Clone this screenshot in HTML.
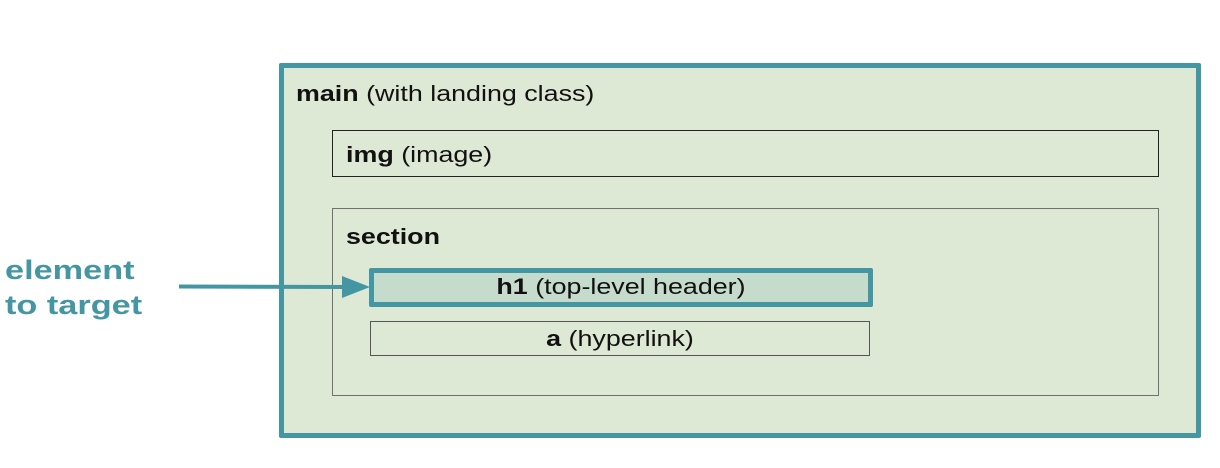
<!DOCTYPE html>
<html><head><meta charset="utf-8"><style>
html,body{margin:0;padding:0;background:#fff;width:1220px;height:468px;overflow:hidden;position:relative;font-family:"Liberation Sans",sans-serif;}
div{position:absolute;box-sizing:border-box;}
.main{left:279px;top:63px;width:922px;height:375px;background:#dde8d5;border:5px solid #4596a3;border-radius:2px;}
.t{position:absolute;font-size:22px;color:#111;white-space:nowrap;transform:scaleX(1.22);transform-origin:left center;}
.c{transform-origin:center center;}
.box{background:#dde8d5;}
</style></head><body>
<div class="main"></div>
<span class="t" style="left:296px;top:81px;"><b>main</b> (with landing class)</span>
<div class="box" style="left:332px;top:130px;width:827px;height:47px;border:1.5px solid #222;"></div>
<span class="t" style="left:346px;top:142px;"><b>img</b> (image)</span>
<div class="box" style="left:332px;top:208px;width:827px;height:188px;border:1.5px solid #707070;"></div>
<span class="t" style="left:346px;top:224px;"><b>section</b></span>
<div style="left:369px;top:268px;width:504px;height:39px;background:#c5dccd;border:5px solid #4596a3;border-radius:2px;"></div>
<span class="t c" style="left:369px;width:504px;text-align:center;top:274px;"><b>h1</b> (top-level header)</span>
<div class="box" style="left:370px;top:321px;width:500px;height:35px;border:1.5px solid #555;"></div>
<span class="t c" style="left:370px;width:500px;text-align:center;top:326px;"><b>a</b> (hyperlink)</span>
<svg style="position:absolute;left:0;top:0" width="1220" height="468">
<line x1="179" y1="286.5" x2="346" y2="287" stroke="#4596a3" stroke-width="4"/>
<polygon points="342,276 370,287 342,298" fill="#4596a3"/>
</svg>
<span class="t" style="left:5px;top:253px;font-size:27px;font-weight:bold;color:#4596a3;line-height:35px;transform:scaleX(1.27);">element<br>to target</span>
</body></html>
